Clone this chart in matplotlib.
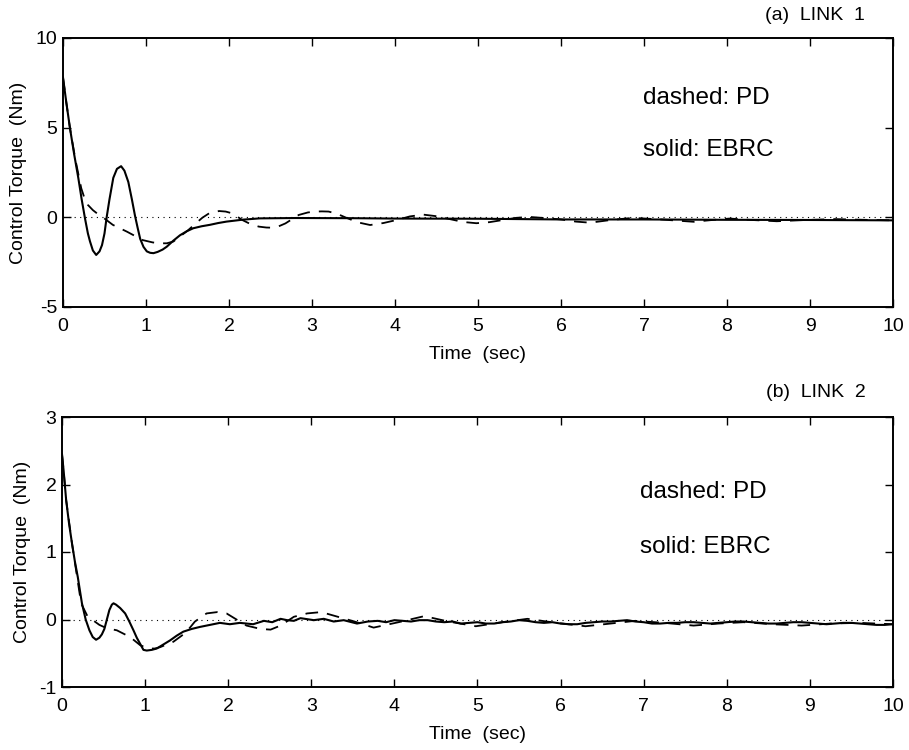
import matplotlib
matplotlib.use("Agg")
import matplotlib.pyplot as plt

plt.rcParams['font.family'] = ['Liberation Sans', 'DejaVu Sans']
plt.rcParams['axes.unicode_minus'] = False

# ---- data ----
# (a) LINK 1, solid: EBRC
t1_ebrc = [0.0, 0.04, 0.084, 0.135, 0.185, 0.225, 0.265, 0.30, 0.325, 0.36, 0.40,
           0.44, 0.47, 0.50, 0.526, 0.56, 0.606, 0.65, 0.70, 0.74, 0.787, 0.83,
           0.867, 0.90, 0.93, 0.97, 1.01, 1.05, 1.09, 1.14, 1.20, 1.25, 1.33, 1.41,
           1.49, 1.57, 1.67, 1.77, 1.87, 1.97, 2.17, 2.37, 2.8, 3.5, 4.0, 5.0, 6.0,
           7.0, 8.0, 9.0, 10.0]
u1_ebrc = [7.8, 6.4, 4.97, 3.5, 2.18, 1.0, -0.06, -0.9, -1.34, -1.85, -2.1,
           -1.9, -1.55, -0.9, 0.0, 1.0, 2.2, 2.7, 2.85, 2.6, 1.97, 1.0,
           0.1, -0.6, -1.2, -1.65, -1.9, -1.98, -2.0, -1.93, -1.8, -1.64, -1.3, -1.0,
           -0.78, -0.61, -0.5, -0.42, -0.32, -0.24, -0.13, -0.06, -0.04, -0.05, -0.07, -0.08, -0.12,
           -0.12, -0.14, -0.15, -0.17]
# (a) LINK 1, dashed: PD
t1_pd = [0.0, 0.04, 0.084, 0.15, 0.22, 0.26, 0.30, 0.36, 0.42, 0.48, 0.60, 0.77,
         0.96, 1.08, 1.16, 1.25, 1.33, 1.40, 1.50, 1.60, 1.68, 1.76, 1.88, 1.96,
         2.04, 2.16, 2.26, 2.36, 2.45, 2.52, 2.60, 2.68, 2.84, 2.95, 3.04, 3.12,
         3.2, 3.3, 3.4, 3.55, 3.70, 3.86, 4.02, 4.18, 4.34, 4.50, 4.66, 4.82, 4.98,
         5.14, 5.3, 5.46, 5.62, 5.8, 6.0, 6.18, 6.35, 6.6, 6.87, 7.2, 7.6, 7.8,
         8.03, 8.3, 8.6, 8.95, 9.3, 9.65, 10.0]
u1_pd = [7.8, 6.4, 4.97, 3.2, 1.62, 1.05, 0.69, 0.4, 0.18, 0.0, -0.42, -0.8,
         -1.27, -1.4, -1.45, -1.45, -1.35, -1.1, -0.75, -0.34, -0.02, 0.22, 0.35, 0.32,
         0.22, -0.15, -0.38, -0.52, -0.57, -0.58, -0.5, -0.34, 0.13, 0.27, 0.32, 0.33,
         0.32, 0.2, 0.0, -0.28, -0.43, -0.32, -0.15, 0.05, 0.15, 0.06, -0.1, -0.26, -0.33,
         -0.27, -0.15, -0.03, 0.02, -0.04, -0.12, -0.24, -0.3, -0.15, -0.03, -0.12, -0.25, -0.16,
         -0.07, -0.15, -0.22, -0.15, -0.1, -0.14, -0.17]

# (b) LINK 2, solid: EBRC
t2_ebrc = [0.0, 0.02, 0.05, 0.085, 0.12, 0.155, 0.19, 0.24, 0.285, 0.33, 0.37,
           0.41, 0.45, 0.48, 0.51, 0.54, 0.57, 0.60, 0.62, 0.65, 0.70, 0.76, 0.81,
           0.86, 0.90, 0.94, 0.98, 1.02, 1.08, 1.14, 1.22, 1.30, 1.38, 1.46, 1.56,
           1.66, 1.78, 1.90, 2.02, 2.14, 2.30, 2.43, 2.53, 2.63, 2.71, 2.79, 2.87,
           3.03, 3.15, 3.27, 3.39, 3.55, 3.68, 3.8, 3.9, 4.0, 4.1, 4.2, 4.3, 4.4,
           4.5, 4.6, 4.7, 4.8, 4.9, 5.0, 5.1, 5.2, 5.3, 5.4, 5.5, 5.6, 5.7, 5.8,
           5.9, 6.0, 6.1, 6.2, 6.3, 6.4, 6.5, 6.6, 6.7, 6.8, 6.9, 7.0, 7.1, 7.2,
           7.3, 7.4, 7.5, 7.6, 7.7, 7.8, 7.9, 8.0, 8.1, 8.2, 8.3, 8.4, 8.5, 8.6,
           8.7, 8.8, 8.9, 9.0, 9.1, 9.2, 9.3, 9.4, 9.5, 9.6, 9.7, 9.8, 9.9, 10.0]
u2_ebrc = [2.45, 2.2, 1.77, 1.42, 1.13, 0.86, 0.63, 0.24, 0.0, -0.16, -0.26,
           -0.30, -0.27, -0.22, -0.14, 0.0, 0.14, 0.22, 0.24, 0.22, 0.17, 0.09, -0.03,
           -0.16, -0.27, -0.36, -0.45, -0.46, -0.45, -0.43, -0.37, -0.31, -0.24, -0.18, -0.14,
           -0.11, -0.08, -0.05, -0.07, -0.05, -0.07, -0.02, -0.04, 0.01, -0.01, -0.02, 0.02,
           -0.01, 0.01, -0.03, -0.01, -0.06, -0.03, -0.02, -0.04, -0.01, -0.02, -0.03, -0.01, -0.01,
           -0.03, -0.04, -0.03, -0.06, -0.05, -0.04, -0.06, -0.06, -0.04, -0.03, -0.01, -0.02, -0.04, -0.05,
           -0.04, -0.06, -0.07, -0.07, -0.05, -0.04, -0.03, -0.03, -0.02, -0.01, -0.03, -0.04, -0.06, -0.06,
           -0.05, -0.05, -0.04, -0.04, -0.05, -0.06, -0.05, -0.04, -0.03, -0.03, -0.04, -0.05, -0.06, -0.06,
           -0.05, -0.04, -0.04, -0.05, -0.06, -0.07, -0.06, -0.05, -0.05, -0.06, -0.07, -0.08, -0.08, -0.07]
# (b) LINK 2, dashed: PD
t2_pd = [0.0, 0.02, 0.05, 0.12, 0.23, 0.31, 0.36, 0.45, 0.54, 0.66, 0.82, 0.94, 1.04,
         1.12, 1.18, 1.34, 1.44, 1.52, 1.60, 1.74, 1.87, 1.98, 2.10, 2.22, 2.39, 2.51,
         2.63, 2.79, 2.95, 3.12, 3.32, 3.52, 3.75, 4.05, 4.36, 4.65, 4.98, 5.3, 5.6,
         5.95, 6.3, 6.6, 6.9, 7.25, 7.6, 7.9, 8.2, 8.55, 8.9, 9.25, 9.6, 10.0]
u2_pd = [2.45, 2.2, 1.77, 1.13, 0.24, 0.04, 0.0, -0.08, -0.13, -0.16, -0.26, -0.38, -0.43,
         -0.43, -0.41, -0.33, -0.24, -0.15, -0.03, 0.09, 0.11, 0.09, 0.0, -0.09, -0.14, -0.15,
         -0.09, 0.04, 0.09, 0.11, 0.04, -0.03, -0.12, -0.04, 0.05, -0.03, -0.1, -0.04, 0.01,
         -0.05, -0.1, -0.06, -0.02, -0.05, -0.09, -0.06, -0.04, -0.07, -0.09, -0.06, -0.05, -0.07]

xticks = list(range(0, 11))


def style_axes(ax, ylim, yticks):
    ax.set_xlim(0, 10)
    ax.set_ylim(*ylim)
    ax.set_xticks(xticks)
    ax.set_yticks(yticks)
    ax.tick_params(direction='in', length=6, width=1.0, top=True, right=True,
                   labelsize=14)
    ax.tick_params(axis='x', pad=8)
    ax.tick_params(axis='y', pad=4)
    for sp in ax.spines.values():
        sp.set_linewidth(1.4)
    ax.axhline(0, color='black', linestyle=(0, (1, 4)), linewidth=0.8)
    ax.set_xlabel('Time  (sec)', fontsize=14, labelpad=8)
    ax.set_ylabel('Control Torque  (Nm)', fontsize=14, labelpad=6)


fig = plt.figure(figsize=(9.09, 7.5), dpi=100)

# (a) LINK 1
ax1 = fig.add_axes([0.0693, 0.5907, 0.9131, 0.3587])
ax1.plot(t1_pd, u1_pd, color='black', linewidth=1.3, linestyle=(0, (7, 5)))
ax1.plot(t1_ebrc, u1_ebrc, color='black', linewidth=1.5)
style_axes(ax1, (-5, 10), [-5, 0, 5, 10])
ax1.text(0.699, 0.777, 'dashed: PD', transform=ax1.transAxes, fontsize=17.5, va='center')
ax1.text(0.699, 0.584, 'solid: EBRC', transform=ax1.transAxes, fontsize=17.5, va='center')
fig.text(0.952, 0.98, '(a)  LINK  1', ha='right', va='center', fontsize=14)

# (b) LINK 2
ax2 = fig.add_axes([0.0682, 0.084, 0.9142, 0.36])
ax2.plot(t2_pd, u2_pd, color='black', linewidth=1.3, linestyle=(0, (7, 5)))
ax2.plot(t2_ebrc, u2_ebrc, color='black', linewidth=1.5)
style_axes(ax2, (-1, 3), [-1, 0, 1, 2, 3])
ax2.text(0.696, 0.722, 'dashed: PD', transform=ax2.transAxes, fontsize=17.5, va='center')
ax2.text(0.696, 0.519, 'solid: EBRC', transform=ax2.transAxes, fontsize=17.5, va='center')
fig.text(0.952, 0.477, '(b)  LINK  2', ha='right', va='center', fontsize=14)

fig.savefig('out.png', dpi=100)
